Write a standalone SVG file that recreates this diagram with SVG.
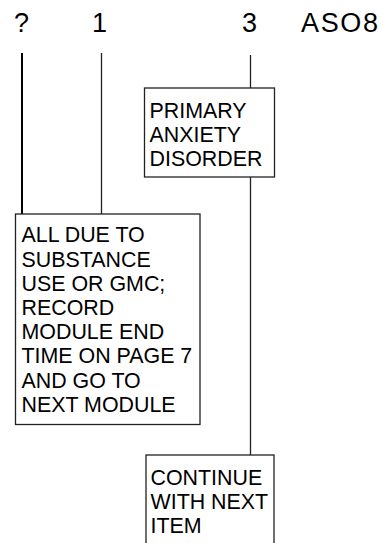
<svg xmlns="http://www.w3.org/2000/svg" width="383" height="543" viewBox="0 0 383 543">
<style>
text{font-family:"Liberation Sans",Arial,sans-serif;fill:#000}
.hd{font-size:27px}
.bx{font-size:21.4px}
.box{fill:#fff;stroke:#222;stroke-width:1.3}
.ln{stroke:#222;stroke-width:1.3;fill:none}
</style>
<rect width="383" height="543" fill="#fff"/>
<g id="headers">
<text class="hd" x="14" y="32">?</text>
<text class="hd" x="92" y="32">1</text>
<text class="hd" x="242" y="32">3</text>
<text class="hd" x="301" y="32" textLength="77">ASO8</text>
</g>
<g id="connectors">
<line x1="22" y1="53" x2="22" y2="214" stroke="#000" stroke-width="2"/>
<line class="ln" x1="101.5" y1="53" x2="101.5" y2="214"/>
<line class="ln" x1="250.5" y1="55" x2="250.5" y2="88"/>
<line class="ln" x1="250.5" y1="177" x2="250.5" y2="455"/>
</g>
<g id="primary">
<rect class="box" x="144.5" y="88" width="130" height="89"/>
<text class="bx" x="149.5" y="117.5">PRIMARY</text>
<text class="bx" x="149.5" y="141.5">ANXIETY</text>
<text class="bx" x="149.5" y="165.5">DISORDER</text>
</g>
<g id="substance">
<rect class="box" x="15.5" y="214" width="184.5" height="210.5"/>
<text class="bx" x="21.5" y="242.3">ALL DUE TO</text>
<text class="bx" x="21.5" y="266.5">SUBSTANCE</text>
<text class="bx" x="21.5" y="290.7">USE OR GMC;</text>
<text class="bx" x="21.5" y="314.9">RECORD</text>
<text class="bx" x="21.5" y="339.1">MODULE END</text>
<text class="bx" x="21.5" y="363.3">TIME ON PAGE 7</text>
<text class="bx" x="21.5" y="387.5">AND GO TO</text>
<text class="bx" x="21.5" y="411.7">NEXT MODULE</text>
</g>
<g id="continue">
<rect class="box" x="146" y="455" width="128" height="95"/>
<text class="bx" x="150.5" y="485">CONTINUE</text>
<text class="bx" x="150.5" y="508.7">WITH NEXT</text>
<text class="bx" x="150.5" y="532.7">ITEM</text>
</g>
</svg>
